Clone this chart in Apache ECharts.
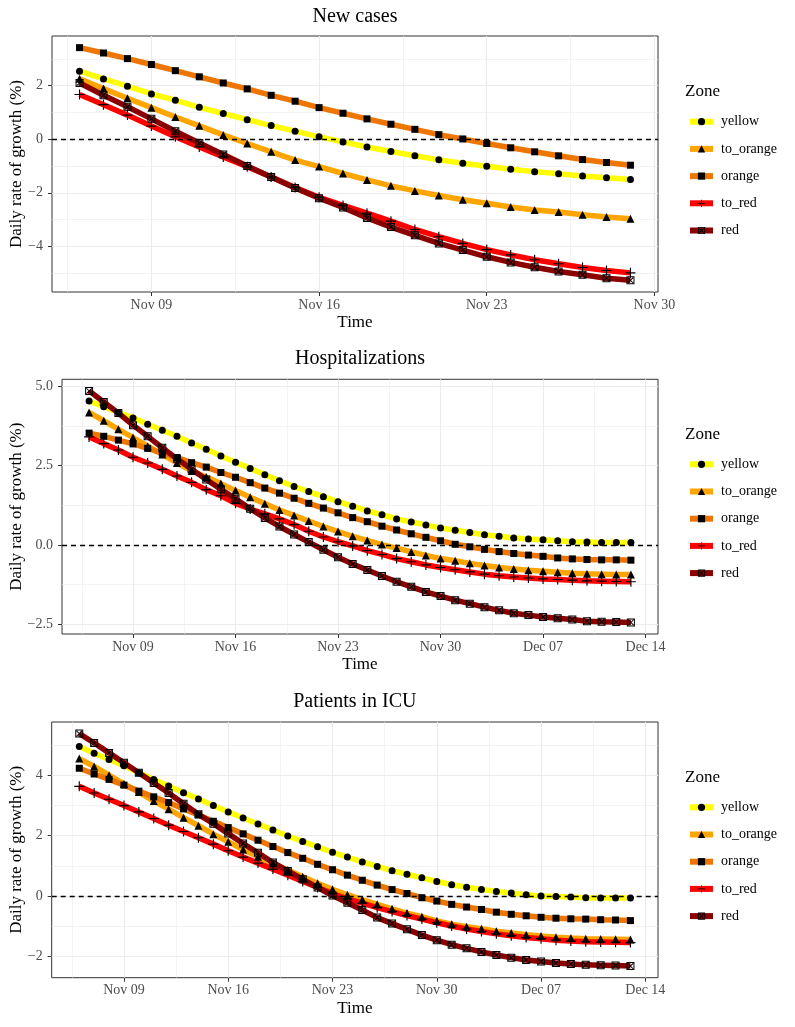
<!DOCTYPE html>
<html><head><meta charset="utf-8">
<script src="https://cdn.jsdelivr.net/npm/echarts@6/dist/echarts.min.js"></script>
<style>html,body{margin:0;padding:0;background:#fff}#c{width:795px;height:1027px}</style>
</head><body><div id="c"></div><script>
const FONT = '"Liberation Serif", "Times New Roman", serif';
const zoneNames = ['yellow', 'to_orange', 'orange', 'to_red', 'red'];
const zoneColors = ['#FFFF00', '#FFA500', '#EE7600', '#FF0000', '#8B0000'];
const PLUS = 'path://M7.1,0h1.8v16h-1.8zM0,7.1h16v1.8h-16z';
const BOXX = 'path://M0,0h16v16h-16zM2,2v12h12v-12zM2,3.4L3.4,2L14,12.6L12.6,14zM12.6,2L14,3.4L3.4,14L2,12.6z';
const zoneSymbols = ['circle', 'triangle', 'rect', PLUS, BOXX];
const zoneSymbolSizes = [7, 8, 7, 10, 8];

// ---- New cases (Nov 06 .. Nov 29), day numbers: Nov N = N, Dec N = 30 + N
const casesStartDay = 6;
const casesYellow   = [2.54, 2.25, 1.98, 1.69, 1.46, 1.19, 0.96, 0.73, 0.51, 0.30, 0.09, -0.10, -0.29, -0.46, -0.62, -0.77, -0.90, -1.01, -1.12, -1.21, -1.29, -1.37, -1.44, -1.50];
const casesToOrange = [2.26, 1.89, 1.53, 1.18, 0.83, 0.50, 0.16, -0.16, -0.47, -0.78, -1.02, -1.28, -1.52, -1.74, -1.93, -2.10, -2.26, -2.39, -2.53, -2.64, -2.72, -2.82, -2.90, -2.97];
const casesOrange   = [3.42, 3.22, 3.01, 2.79, 2.56, 2.33, 2.10, 1.88, 1.64, 1.42, 1.18, 0.97, 0.76, 0.56, 0.37, 0.17, 0.01, -0.16, -0.32, -0.47, -0.62, -0.76, -0.87, -0.97];
const casesToRed    = [1.67, 1.29, 0.90, 0.49, 0.09, -0.29, -0.66, -1.03, -1.41, -1.80, -2.17, -2.47, -2.76, -3.06, -3.37, -3.64, -3.89, -4.12, -4.32, -4.50, -4.65, -4.79, -4.90, -4.99];
const casesRed      = [2.10, 1.64, 1.21, 0.76, 0.30, -0.14, -0.57, -1.00, -1.41, -1.82, -2.20, -2.55, -2.94, -3.28, -3.59, -3.89, -4.14, -4.39, -4.60, -4.78, -4.94, -5.06, -5.19, -5.27];
const casesXTicks = [9, 16, 23, 30];
const casesXTickLabels = ['Nov 09', 'Nov 16', 'Nov 23', 'Nov 30'];
const casesXMinor = [5.5, 12.5, 19.5, 26.5];
const casesYTicks = [-4, -2, 0, 2];
const casesYTickLabels = ['\u22124', '\u22122', '0', '2'];
const casesYMinor = [-5, -3, -1, 1, 3];

// ---- Hospitalizations (Nov 06 .. Dec 13)
const hospStartDay = 6;
const hospYellow   = [4.53, 4.35, 4.17, 4.00, 3.80, 3.61, 3.42, 3.21, 3.01, 2.80, 2.60, 2.41, 2.21, 2.02, 1.84, 1.68, 1.52, 1.36, 1.22, 1.07, 0.95, 0.82, 0.72, 0.63, 0.53, 0.46, 0.39, 0.32, 0.27, 0.22, 0.19, 0.16, 0.13, 0.10, 0.09, 0.08, 0.08, 0.08];
const hospToOrange = [4.17, 3.91, 3.64, 3.38, 3.11, 2.85, 2.58, 2.33, 2.14, 1.93, 1.71, 1.50, 1.30, 1.10, 0.93, 0.75, 0.58, 0.42, 0.27, 0.14, 0.01, -0.10, -0.22, -0.33, -0.43, -0.50, -0.58, -0.65, -0.71, -0.76, -0.80, -0.83, -0.86, -0.89, -0.91, -0.92, -0.93, -0.93];
const hospOrange   = [3.52, 3.42, 3.30, 3.18, 3.04, 2.89, 2.75, 2.59, 2.45, 2.28, 2.13, 1.96, 1.79, 1.63, 1.47, 1.31, 1.16, 1.01, 0.86, 0.73, 0.59, 0.47, 0.35, 0.24, 0.13, 0.02, -0.06, -0.14, -0.21, -0.27, -0.32, -0.36, -0.41, -0.44, -0.46, -0.47, -0.47, -0.48];
const hospToRed    = [3.40, 3.19, 2.99, 2.76, 2.58, 2.38, 2.17, 1.97, 1.74, 1.55, 1.31, 1.13, 0.98, 0.82, 0.64, 0.43, 0.25, 0.10, -0.03, -0.18, -0.30, -0.43, -0.53, -0.63, -0.71, -0.78, -0.85, -0.92, -0.97, -1.01, -1.04, -1.07, -1.09, -1.11, -1.13, -1.14, -1.15, -1.16];
const hospRed      = [4.85, 4.50, 4.15, 3.77, 3.42, 3.06, 2.71, 2.38, 2.06, 1.75, 1.45, 1.14, 0.85, 0.58, 0.33, 0.09, -0.15, -0.39, -0.60, -0.79, -0.98, -1.16, -1.32, -1.48, -1.61, -1.74, -1.85, -1.96, -2.06, -2.15, -2.21, -2.27, -2.31, -2.35, -2.40, -2.42, -2.43, -2.44];
const hospXTicks = [9, 16, 23, 30, 37, 44];
const hospXTickLabels = ['Nov 09', 'Nov 16', 'Nov 23', 'Nov 30', 'Dec 07', 'Dec 14'];
const hospXMinor = [5.5, 12.5, 19.5, 26.5, 33.5, 40.5];
const hospYTicks = [-2.5, 0, 2.5, 5];
const hospYTickLabels = ['\u22122.5', '0.0', '2.5', '5.0'];
const hospYMinor = [-1.25, 1.25, 3.75];

// ---- Patients in ICU (Nov 06 .. Dec 13)
const icuStartDay = 6;
const icuYellow   = [4.96, 4.74, 4.53, 4.32, 4.09, 3.87, 3.65, 3.43, 3.22, 3.00, 2.79, 2.59, 2.39, 2.19, 1.99, 1.81, 1.63, 1.45, 1.29, 1.13, 0.98, 0.84, 0.72, 0.60, 0.48, 0.37, 0.29, 0.21, 0.15, 0.10, 0.04, 0.00, -0.02, -0.04, -0.06, -0.07, -0.07, -0.07];
const icuToOrange = [4.56, 4.30, 4.01, 3.72, 3.45, 3.15, 2.88, 2.60, 2.33, 2.05, 1.80, 1.54, 1.30, 1.08, 0.86, 0.64, 0.42, 0.22, 0.04, -0.12, -0.28, -0.43, -0.57, -0.69, -0.83, -0.94, -1.02, -1.09, -1.17, -1.23, -1.29, -1.33, -1.37, -1.40, -1.42, -1.43, -1.44, -1.45];
const icuOrange   = [4.24, 4.05, 3.87, 3.68, 3.48, 3.29, 3.10, 2.89, 2.69, 2.48, 2.27, 2.06, 1.85, 1.64, 1.44, 1.25, 1.05, 0.87, 0.69, 0.52, 0.36, 0.21, 0.08, -0.06, -0.17, -0.28, -0.37, -0.45, -0.54, -0.61, -0.66, -0.71, -0.74, -0.76, -0.77, -0.79, -0.80, -0.82];
const icuToRed    = [3.64, 3.42, 3.21, 3.00, 2.79, 2.57, 2.35, 2.14, 1.93, 1.72, 1.50, 1.29, 1.09, 0.89, 0.69, 0.48, 0.28, 0.08, -0.10, -0.24, -0.39, -0.52, -0.65, -0.77, -0.89, -1.00, -1.10, -1.18, -1.26, -1.32, -1.38, -1.42, -1.47, -1.50, -1.52, -1.53, -1.54, -1.55];
const icuRed      = [5.39, 5.08, 4.75, 4.42, 4.09, 3.75, 3.42, 3.06, 2.71, 2.40, 2.07, 1.74, 1.43, 1.11, 0.83, 0.55, 0.28, 0.01, -0.23, -0.47, -0.72, -0.92, -1.11, -1.30, -1.47, -1.62, -1.74, -1.86, -1.96, -2.05, -2.13, -2.18, -2.23, -2.26, -2.29, -2.30, -2.31, -2.33];
const icuXTicks = [9, 16, 23, 30, 37, 44];
const icuXTickLabels = ['Nov 09', 'Nov 16', 'Nov 23', 'Nov 30', 'Dec 07', 'Dec 14'];
const icuXMinor = [5.5, 12.5, 19.5, 26.5, 33.5, 40.5];
const icuYTicks = [-2, 0, 2, 4];
const icuYTickLabels = ['\u22122', '0', '2', '4'];
const icuYMinor = [-1, 1, 3, 5];

const panels = [
  { title: 'New cases', start: casesStartDay, values: [casesYellow, casesToOrange, casesOrange, casesToRed, casesRed],
    xTicks: casesXTicks, xLabels: casesXTickLabels, xMinor: casesXMinor, yTicks: casesYTicks, yLabels: casesYTickLabels, yMinor: casesYMinor,
    lay: { left: 52, top: 36, height: 256, titleY: 16.5, zoneY: 91.7, legendTop: 114.7, yNameGap: 27 } },
  { title: 'Hospitalizations', start: hospStartDay, values: [hospYellow, hospToOrange, hospOrange, hospToRed, hospRed],
    xTicks: hospXTicks, xLabels: hospXTickLabels, xMinor: hospXMinor, yTicks: hospYTicks, yLabels: hospYTickLabels, yMinor: hospYMinor,
    lay: { left: 62, top: 379.3, height: 254.7, titleY: 359, zoneY: 434.7, legendTop: 457.3, yNameGap: 37 } },
  { title: 'Patients in ICU', start: icuStartDay, values: [icuYellow, icuToOrange, icuOrange, icuToRed, icuRed],
    xTicks: icuXTicks, xLabels: icuXTickLabels, xMinor: icuXMinor, yTicks: icuYTicks, yLabels: icuYTickLabels, yMinor: icuYMinor,
    lay: { left: 51.7, top: 722, height: 255.7, titleY: 702, zoneY: 778, legendTop: 800.3, yNameGap: 27 } }
];

const PLOT_RIGHT = 658;
const option = {
  animation: false, backgroundColor: '#ffffff', textStyle: { fontFamily: FONT },
  grid: [], xAxis: [], yAxis: [], series: [], legend: [], graphic: []
};

panels.forEach((p, i) => {
  const L = p.lay;
  const n = p.values[0].length;
  const days = p.values[0].map((_, j) => p.start + j);
  const x0 = days[0], x1 = days[n - 1];
  const all = [].concat(...p.values);
  const y0 = Math.min(...all), y1 = Math.max(...all);
  const ex = (x1 - x0) * 0.05, ey = (y1 - y0) * 0.05;

  option.grid.push({ left: L.left, top: L.top, width: PLOT_RIGHT - L.left, height: L.height, show: true,
    borderColor: '#333333', borderWidth: 1, backgroundColor: 'transparent', outerBoundsMode: 'none', containLabel: false });

  option.xAxis.push({ gridIndex: i, type: 'value', min: x0 - ex, max: x1 + ex,
    name: 'Time', nameLocation: 'middle', nameGap: 22, nameMoveOverlap: false,
    nameTextStyle: { fontSize: 17, color: '#000', fontFamily: FONT },
    axisLine: { show: false, onZero: false },
    axisTick: { show: true, length: 4, lineStyle: { color: '#333333', width: 1 }, customValues: p.xTicks },
    axisLabel: { customValues: p.xTicks, fontSize: 14, color: '#4D4D4D', margin: 6, fontFamily: FONT,
      formatter: v => { const k = p.xTicks.indexOf(v); return k >= 0 ? p.xLabels[k] : ''; } },
    splitLine: { show: false }, minorSplitLine: { show: false } });

  option.yAxis.push({ gridIndex: i, type: 'value', min: y0 - ey, max: y1 + ey,
    name: 'Daily rate of growth (%)', nameLocation: 'middle', nameGap: L.yNameGap, nameMoveOverlap: false,
    nameTextStyle: { fontSize: 17, color: '#000', fontFamily: FONT },
    axisLine: { show: false, onZero: false },
    axisTick: { show: true, length: 4, lineStyle: { color: '#333333', width: 1 }, customValues: p.yTicks },
    axisLabel: { customValues: p.yTicks, fontSize: 14, color: '#4D4D4D', margin: 9, fontFamily: FONT,
      formatter: v => { const k = p.yTicks.indexOf(v); return k >= 0 ? p.yLabels[k] : ''; } },
    splitLine: { show: false } });

  // background grid lines
  const gl = [];
  p.xMinor.forEach(v => gl.push({ xAxis: v, lineStyle: { width: 0.6, color: '#EBEBEB', type: 'solid' } }));
  p.yMinor.forEach(v => gl.push({ yAxis: v, lineStyle: { width: 0.6, color: '#EBEBEB', type: 'solid' } }));
  p.xTicks.forEach(v => gl.push({ xAxis: v, lineStyle: { width: 1.1, color: '#EBEBEB', type: 'solid' } }));
  p.yTicks.forEach(v => gl.push({ yAxis: v, lineStyle: { width: 1.1, color: '#EBEBEB', type: 'solid' } }));
  option.series.push({ type: 'line', name: 'grid' + i, xAxisIndex: i, yAxisIndex: i, data: [], z: 1, silent: true,
    markLine: { silent: true, symbol: 'none', label: { show: false }, z: 1, animation: false, emphasis: { disabled: true }, data: gl } });

  // lines
  p.values.forEach((vals, k) => {
    option.series.push({ type: 'line', name: zoneNames[k], xAxisIndex: i, yAxisIndex: i,
      data: vals.map((v, j) => [days[j], v]), showSymbol: false, symbol: zoneSymbols[k], symbolSize: zoneSymbolSizes[k],
      lineStyle: { color: zoneColors[k], width: 5.5 }, itemStyle: { color: '#000', opacity: 1 }, z: 3, silent: true,
      emphasis: { disabled: true } });
  });
  // points on top
  p.values.forEach((vals, k) => {
    option.series.push({ type: 'scatter', name: 'pts_' + zoneNames[k] + '_' + i, xAxisIndex: i, yAxisIndex: i,
      data: vals.map((v, j) => [days[j], v]), symbol: zoneSymbols[k], symbolSize: zoneSymbolSizes[k],
      itemStyle: { color: '#000', opacity: 1 }, z: 4, silent: true, emphasis: { disabled: true } });
  });
  // zero reference line
  option.series.push({ type: 'line', name: 'zero' + i, xAxisIndex: i, yAxisIndex: i, data: [], z: 5, silent: true,
    markLine: { silent: true, symbol: 'none', label: { show: false }, z: 5, animation: false, emphasis: { disabled: true },
      lineStyle: { color: '#000', type: [5, 4], width: 1.3 }, data: [{ yAxis: 0 }] } });

  option.legend.push({ data: zoneNames, orient: 'vertical', left: 687, top: L.legendTop, padding: 0,
    itemWidth: 23, itemHeight: 9, itemGap: 13.2, selectedMode: false,
    textStyle: { fontSize: 14, lineHeight: 14, color: '#000', fontFamily: FONT, padding: [0, 0, 0, 3] },
    lineStyle: { width: 6 }, itemStyle: { color: '#000', opacity: 1 } });

  option.graphic.push({ type: 'text', x: (L.left + PLOT_RIGHT) / 2, y: L.titleY, silent: true,
    style: { text: p.title, fontSize: 20, fontFamily: FONT, fill: '#000', align: 'center', verticalAlign: 'middle' } });
  option.graphic.push({ type: 'text', x: 685, y: L.zoneY, silent: true,
    style: { text: 'Zone', fontSize: 17, fontFamily: FONT, fill: '#000', align: 'left', verticalAlign: 'middle' } });
});

const chart = echarts.init(document.getElementById('c'), null, { renderer: 'canvas' });
chart.setOption(option);
</script></body></html>
